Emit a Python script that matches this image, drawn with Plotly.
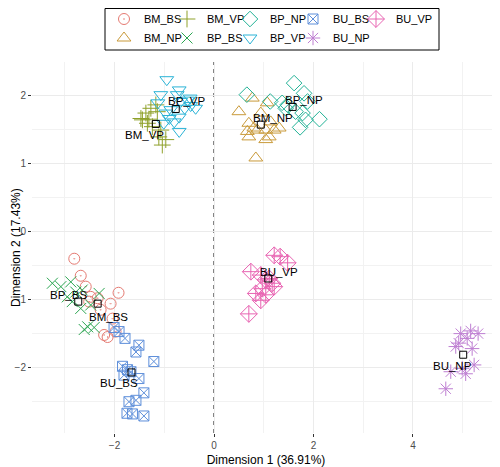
import plotly.graph_objects as go

# ---------------- data ----------------
bm_bs_x = [-2.81, -2.68, -1.92, -2.08, -2.48, -2.51, -2.28, -2.04, -2.14, -1.98, -2.21, -2.58, -2.34]
bm_bs_y = [-0.40, -0.65, -0.90, -1.06, -0.96, -1.03, -1.15, -1.28, -1.55, -1.47, -1.52, -0.81, -0.98]

bm_np_x = [0.77, 0.50, 1.07, 0.94, 0.70, 0.80, 0.67, 0.70, 1.04, 1.11, 1.21, 1.31, 1.04, 0.87, 0.84, 1.14]
bm_np_y = [1.96, 1.76, 1.89, 1.74, 1.59, 1.52, 1.47, 1.39, 1.49, 1.39, 1.49, 1.52, 1.35, 1.49, 1.08, 1.61]

bm_vp_x = [-1.27, -1.17, -1.37, -1.47, -1.31, -1.14, -1.24, -1.07, -1.11, -0.97, -1.04, -1.34, -1.44]
bm_vp_y = [1.81, 1.86, 1.74, 1.66, 1.65, 1.76, 1.54, 1.49, 1.39, 1.35, 1.27, 1.59, 1.64]

bp_bs_x = [-3.25, -2.88, -3.08, -2.95, -2.78, -2.65, -2.85, -2.68, -2.48, -2.31, -2.54, -2.41, -2.61]
bp_bs_y = [-0.76, -0.74, -0.81, -0.96, -0.89, -0.86, -1.03, -1.13, -1.08, -0.91, -1.40, -1.41, -1.44]

bp_np_x = [1.61, 0.66, 1.13, 1.48, 1.81, 1.88, 1.78, 1.44, 2.12, 1.73, 1.84, 1.64, 1.37]
bp_np_y = [2.18, 2.01, 1.91, 1.86, 2.03, 1.91, 1.74, 1.81, 1.65, 1.53, 1.64, 1.76, 1.89]

bp_vp_x = [-0.95, -0.70, -1.07, -0.74, -0.48, -0.37, -0.47, -0.59, -0.87, -0.97, -0.90, -0.70, -0.80, -1.01, -0.70, -1.13, -0.67, -0.53]
bp_vp_y = [2.23, 2.08, 2.01, 2.01, 1.96, 1.81, 1.85, 1.81, 1.79, 1.74, 1.66, 1.68, 1.61, 1.59, 1.47, 1.89, 1.91, 1.93]

bu_bs_x = [-2.01, -1.91, -1.79, -1.51, -1.57, -1.21, -1.84, -1.74, -1.81, -1.51, -1.41, -1.57, -1.71, -1.75, -1.64, -1.41, -1.67]
bu_bs_y = [-1.41, -1.47, -1.57, -1.67, -1.77, -1.91, -1.98, -2.03, -2.11, -2.16, -2.37, -2.48, -2.50, -2.67, -2.68, -2.71, -2.06]

bu_np_x = [4.96, 5.16, 5.31, 5.09, 5.19, 4.86, 5.23, 4.76, 5.06, 4.66, 4.92, 4.99]
bu_np_y = [-1.50, -1.46, -1.50, -1.57, -1.72, -1.69, -1.96, -2.06, -2.09, -2.31, -1.64, -2.01]

bu_vp_x = [1.21, 1.33, 1.48, 0.74, 0.94, 1.04, 1.17, 1.21, 0.97, 0.84, 0.94, 1.04, 0.70, 1.11]
bu_vp_y = [-0.35, -0.37, -0.46, -0.59, -0.64, -0.71, -0.76, -0.81, -0.84, -0.91, -1.01, -0.93, -1.21, -0.69]

centroid_labels = ["BM_BS", "BM_NP", "BM_VP", "BP_BS", "BP_NP", "BP_VP", "BU_BS", "BU_NP", "BU_VP"]
centroid_x = [-2.34, 0.94, -1.17, -2.73, 1.58, -0.77, -1.66, 5.01, 1.09]
centroid_y = [-1.06, 1.57, 1.58, -1.03, 1.83, 1.80, -2.07, -1.81, -0.69]

x_title = "Dimension 1 (36.91%)"
y_title = "Dimension 2 (17.43%)"

# ---------------- styles ----------------
series = {
    "BM_BS": (bm_bs_x, bm_bs_y),
    "BM_NP": (bm_np_x, bm_np_y),
    "BM_VP": (bm_vp_x, bm_vp_y),
    "BP_BS": (bp_bs_x, bp_bs_y),
    "BP_NP": (bp_np_x, bp_np_y),
    "BP_VP": (bp_vp_x, bp_vp_y),
    "BU_BS": (bu_bs_x, bu_bs_y),
    "BU_NP": (bu_np_x, bu_np_y),
    "BU_VP": (bu_vp_x, bu_vp_y),
}
colors = {
    "BM_BS": "#E57A72", "BM_NP": "#C99A3A", "BM_VP": "#8FA12A",
    "BP_BS": "#2AA550", "BP_NP": "#22B296", "BP_VP": "#2AB3D6",
    "BU_BS": "#5E8FDA", "BU_NP": "#BE7ED2", "BU_VP": "#E864B2",
}
symbols = {
    "BM_BS": ("circle-open-dot", 11), "BM_NP": ("triangle-up-open", 12),
    "BM_VP": ("cross-thin-open", 12), "BP_BS": ("x-thin-open", 11),
    "BP_NP": ("diamond-open", 12), "BP_VP": ("triangle-down-open", 12),
    "BU_BS": ("square-x-open", 10), "BU_NP": ("asterisk-open", 12),
    "BU_VP": ("diamond-cross-open", 13),
}
row1 = ["BM_BS", "BM_VP", "BP_NP", "BU_BS", "BU_VP"]
row2 = ["BM_NP", "BP_BS", "BP_VP", "BU_NP"]
# label offsets from centroid (pixels, x right / y up)
label_dx = [11, 12, -11, -10, 11, 11, -12, -11, 11]
label_dy = [-13, 7, -11, 7, 7, 8, -11, -11, 6]

FONT = "Liberation Sans, Arial, sans-serif"

fig = go.Figure()
order = row1 + row2
for g in centroid_labels:
    xs, ys = series[g]
    sym, size = symbols[g]
    last = (g == row1[-1]) or (g == row2[-1])
    fig.add_trace(go.Scatter(
        x=xs, y=ys, mode="markers", name=g,
        legend="legend" if g in row1 else "legend2",
        legendrank=order.index(g),
        legendwidth=40 if last else None,
        marker=dict(symbol=sym, size=size, color=colors[g],
                    line=dict(width=1, color=colors[g])),
        hoverinfo="skip",
    ))

fig.add_trace(go.Scatter(
    x=centroid_x, y=centroid_y, mode="markers", showlegend=False,
    marker=dict(symbol="square-open", size=7, color="black", line=dict(width=1, color="black")),
    hoverinfo="skip",
))
for lab, cx, cy, dx, dy in zip(centroid_labels, centroid_x, centroid_y, label_dx, label_dy):
    fig.add_annotation(x=cx, y=cy, text=lab, showarrow=False, xshift=dx, yshift=dy,
                       xanchor="center", yanchor="middle",
                       font=dict(family=FONT, size=11.5, color="black"))

fig.add_hline(y=0, line=dict(color="black", width=1, dash="4px,4px"), layer="below")
fig.add_vline(x=0, line=dict(color="black", width=1, dash="4px,4px"), layer="below")

# plot area in figure pixels: left 24, right 492, top 54, bottom 425
PW, PH = 468, 371
def px(fx):
    return (fx - 24) / PW
def py(fy):
    return (425 - fy) / PH

# legend frame
fig.add_shape(type="rect", xref="paper", yref="paper",
              x0=px(97), x1=px(431), y0=py(42), y1=py(0.5),
              line=dict(color="black", width=1), fillcolor="rgba(0,0,0,0)")

fig.add_annotation(xref="paper", yref="paper", x=px(7.5), y=0.5, text=y_title,
                   textangle=-90, showarrow=False, xanchor="center", yanchor="middle",
                   font=dict(family=FONT, size=12, color="black"))

axis_common = dict(
    showline=False, zeroline=False, ticks="outside", ticklen=3, tickwidth=1,
    tickcolor="#333333", gridcolor="#EBEBEB", gridwidth=1,
    tickfont=dict(family=FONT, size=10, color="#4D4D4D"),
)
fig.update_xaxes(range=[-3.66, 5.75], dtick=2, tick0=0,
                 minor=dict(dtick=1, showgrid=True, gridcolor="#F2F2F2", gridwidth=1),
                 title=dict(text=x_title, font=dict(family=FONT, size=12, color="black"), standoff=8),
                 **axis_common)
fig.update_yaxes(range=[-2.96, 2.49], dtick=1, tick0=0,
                 minor=dict(dtick=0.5, showgrid=True, gridcolor="#F2F2F2", gridwidth=1),
                 **axis_common)

legend_common = dict(orientation="h", xanchor="left", yanchor="middle",
                     x=px(96), entrywidth=18, entrywidthmode="pixels",
                     font=dict(family=FONT, size=11, color="black"),
                     bgcolor="rgba(0,0,0,0)", borderwidth=0, itemclick=False)
fig.update_layout(
    width=492, height=459,
    margin=dict(l=24, r=0, t=54, b=34, autoexpand=False),
    plot_bgcolor="white", paper_bgcolor="white",
    font=dict(family=FONT),
    legend=dict(y=py(11), **legend_common),
    legend2=dict(y=py(30), **legend_common),
)

fig.write_html("out.html")
